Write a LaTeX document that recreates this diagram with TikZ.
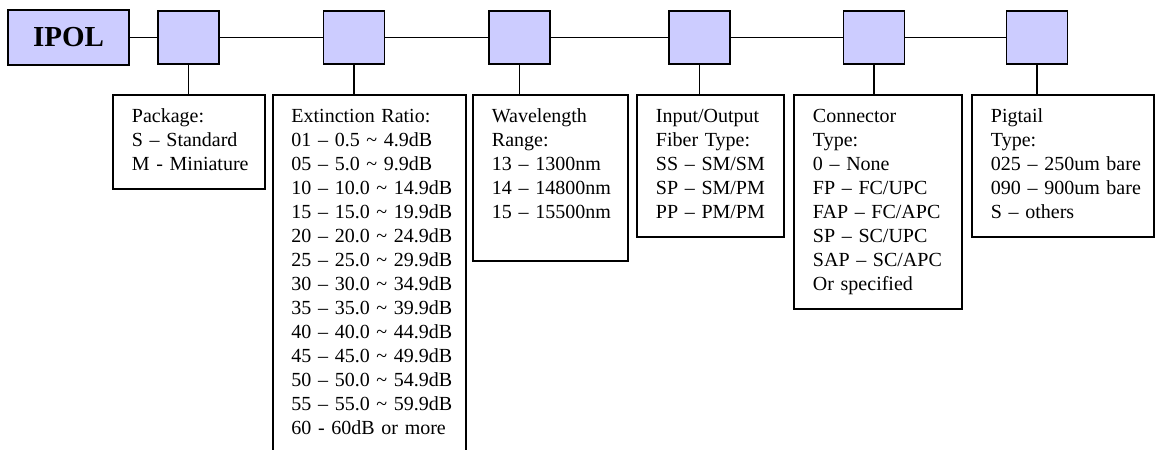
\documentclass[tikz,border=0pt]{standalone}
\usepackage{fontspec}
\setmainfont{Liberation Serif}
\usetikzlibrary{positioning}
\definecolor{codeFill}{HTML}{CCCCFF}
\newcommand{\optlist}[1]{\begin{tabular}{@{}l@{}}#1\end{tabular}}

\begin{document}
\begin{tikzpicture}[
    x=0.5pt, y=-0.5pt, line width=0.95pt,
    mainbox/.style={rectangle, draw=black, fill=codeFill, minimum width=60.5pt,
                minimum height=27.5pt, font=\fontsize{14.5}{16}\selectfont\bfseries},
    codebox/.style={rectangle, draw=black, fill=codeFill, minimum width=30.5pt,
                minimum height=26.5pt, inner sep=0pt},
    descbox/.style={rectangle, draw=black, fill=white, anchor=north west, align=left,
                font=\fontsize{10}{12}\selectfont, inner xsep=9.5pt, inner ysep=5.6pt},
  ]
    \useasboundingbox (0,0) rectangle (1158,450);
    \clip (0,0) rectangle (1158,450);

    % code chain
    \node[mainbox] (ipol) at (68.5,37.5) {IPOL};
    \node[codebox] (c1) at (188.5,37.5) {};
    \node[codebox] (c2) at (354,37.5) {};
    \node[codebox] (c3) at (519.5,37.5) {};
    \node[codebox] (c4) at (699.5,37.5) {};
    \node[codebox] (c5) at (874,37.5) {};
    \node[codebox] (c6) at (1037,37.5) {};
    \draw (ipol) -- (c1) -- (c2) -- (c3) -- (c4) -- (c5) -- (c6);

    % option boxes
    \node[descbox, text width=57pt] (d1) at (112,94)
      {\optlist{Package:\\S -- Standard\\M - Miniature}};
    \node[descbox, text width=78pt, inner xsep=9.25pt] (d2) at (272,94)
      {\optlist{Extinction Ratio:\\
       01 -- 0.5 \textasciitilde{} 4.9dB\\
       05 -- 5.0 \textasciitilde{} 9.9dB\\
       10 -- 10.0 \textasciitilde{} 14.9dB\\
       15 -- 15.0 \textasciitilde{} 19.9dB\\
       20 -- 20.0 \textasciitilde{} 24.9dB\\
       25 -- 25.0 \textasciitilde{} 29.9dB\\
       30 -- 30.0 \textasciitilde{} 34.9dB\\
       35 -- 35.0 \textasciitilde{} 39.9dB\\
       40 -- 40.0 \textasciitilde{} 44.9dB\\
       45 -- 45.0 \textasciitilde{} 49.9dB\\
       50 -- 50.0 \textasciitilde{} 54.9dB\\
       55 -- 55.0 \textasciitilde{} 59.9dB\\
       60 - 60dB or more}};
    \node[descbox, text width=58.5pt] (d3) at (472,94)
      {\optlist{Wavelength\\Range:\\13 -- 1300nm\\14 -- 14800nm\\15 -- 15500nm\\ \mbox{}}};
    \node[descbox, text width=54.5pt] (d4) at (636,94)
      {\optlist{Input/Output\\Fiber Type:\\SS -- SM/SM\\SP -- SM/PM\\PP -- PM/PM}};
    \node[descbox, text width=65pt] (d5) at (793,94)
      {\optlist{Connector\\Type:\\0 -- None\\FP -- FC/UPC\\FAP -- FC/APC\\SP -- SC/UPC\\SAP -- SC/APC\\Or specified}};
    \node[descbox, text width=72pt] (d6) at (971,94)
      {\optlist{Pigtail\\Type:\\025 -- 250um bare\\090 -- 900um bare\\S -- others}};

    % drops
    \draw (c1.south) -- (c1.south |- d1.north);
    \draw (c2.south) -- (c2.south |- d2.north);
    \draw (c3.south) -- (c3.south |- d3.north);
    \draw (c4.south) -- (c4.south |- d4.north);
    \draw (c5.south) -- (c5.south |- d5.north);
    \draw (c6.south) -- (c6.south |- d6.north);
  \end{tikzpicture}
\end{document}
